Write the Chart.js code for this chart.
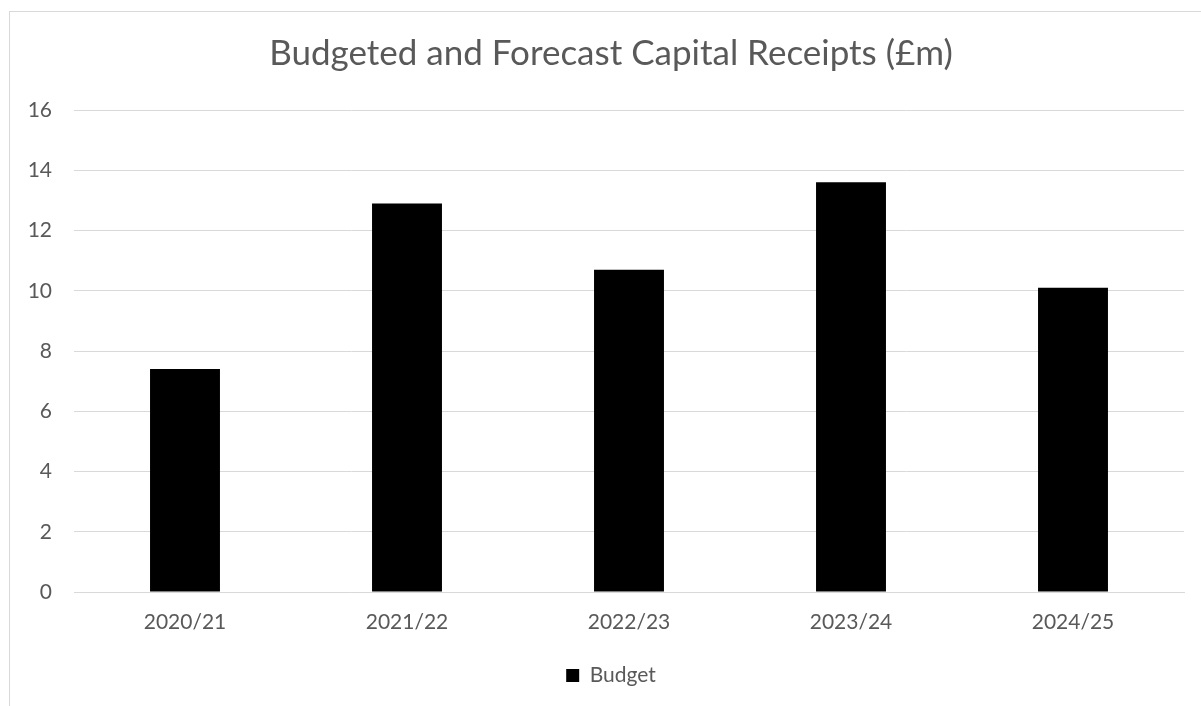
<!DOCTYPE html>
<html>
<head>
<meta charset="utf-8">
<script src="https://cdn.jsdelivr.net/npm/chart.js@4"></script>
<style>
  html, body { margin: 0; padding: 0; background: #fff; overflow: hidden; }
  #wrap {
    position: absolute; left: 9px; top: 11px;
    width: 1202px; height: 694px;
    border: 1px solid #d9d9d9;
  }
</style>
</head>
<body>
<div id="wrap"><canvas id="chart"></canvas></div>
<script>
// data
const years = ["2020/21", "2021/22", "2022/23", "2023/24", "2024/25"];
const budget = [7.4, 12.9, 10.7, 13.6, 10.1];
const yTicks = [0, 2, 4, 6, 8, 10, 12, 14, 16];

const grey = "#595959";
const gridGrey = "#d9d9d9";
const font = "Lato";

const cfg = {
  type: "bar",
  data: {
    labels: years,
    datasets: [
      {
        label: "Budget",
        data: budget,
        backgroundColor: "#000000",
        borderWidth: 0,
        barPercentage: 0.63,
        categoryPercentage: 0.5,
      },
    ],
  },
  options: {
    responsive: true,
    maintainAspectRatio: false,
    animation: false,
    layout: { padding: { left: 0, right: 0, top: 0, bottom: 10 } },
    plugins: {
      title: {
        display: true,
        text: "Budgeted and Forecast Capital Receipts (£m)",
        color: grey,
        font: { family: font, size: 35, weight: "normal" },
        padding: { top: 21, bottom: 35 },
      },
      legend: {
        position: "bottom",
        labels: {
          color: grey,
          font: { family: font, size: 21 },
          boxWidth: 13,
          boxHeight: 13,
          padding: 10,
        },
      },
      tooltip: { enabled: false },
    },
    scales: {
      x: {
        grid: { display: false, drawTicks: false },
        border: { display: true, color: gridGrey },
        ticks: { color: grey, font: { family: font, size: 21 }, padding: 18 },
        afterFit: (s) => { s.height = 63; },
      },
      y: {
        min: 0,
        max: 16,
        afterBuildTicks: (s) => { s.ticks = yTicks.map((v) => ({ value: v })); },
        grid: { color: gridGrey, drawTicks: false },
        border: { display: false },
        ticks: { color: grey, font: { family: font, size: 21 }, padding: 22 },
        afterFit: (s) => { s.width = 64; },
      },
      // empty right margin so the plot stops short of the frame
      yRight: {
        position: "right",
        grid: { display: false, drawTicks: false },
        border: { display: false },
        ticks: { display: false },
        afterFit: (s) => { s.width = 28; },
      },
    },
  },
};

new Chart(document.getElementById("chart"), cfg);
</script>
</body>
</html>
